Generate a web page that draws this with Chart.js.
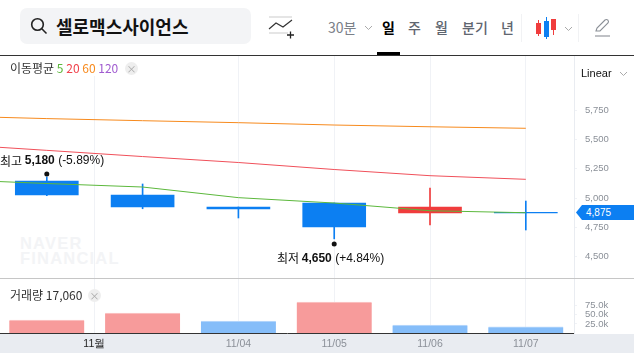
<!DOCTYPE html>
<html>
<head>
<meta charset="utf-8">
<script src="https://cdn.jsdelivr.net/npm/chart.js@4"></script>
<style>
	html, body { margin: 0; padding: 0; background: #fff; overflow: hidden; }
	body { width: 634px; height: 353px; position: relative; font-family: "Noto Sans CJK KR", "Noto Sans", sans-serif; }
	.abs { position: absolute; white-space: nowrap; }
	canvas { position: absolute; left: 0; }
	#searchBox { left: 20px; top: 8px; width: 231px; height: 36px; background: #f3f4f6; border-radius: 7px; }
	#stockName { left: 56px; top: 14px; font-size: 18px; line-height: 25px; font-weight: 700; color: #111; }
	.tab { top: 17px; font-size: 14px; line-height: 20px; font-weight: 500; color: #5f6670; }
	#headLine { left: 0; top: 55px; width: 634px; height: 1px; background: #333; }
	#tabLine { left: 377px; top: 52px; width: 23px; height: 3px; background: #000; }
	#legendBox { left: 0; top: 56px; width: 126px; height: 20px; background: #fff; }
	.label { font-size: 12px; line-height: 16px; color: #333; }
	.badge { width: 13px; height: 13px; border-radius: 50%; background: #eee; color: #aaa; font-size: 10px; line-height: 13px; text-align: center; }
	#axisBand { left: 0; top: 334px; width: 634px; height: 19px; background: #e9ecf1; }
	#watermark { left: 20px; top: 236px; font-family: "Liberation Sans", sans-serif; font-weight: 700; font-size: 16.5px; line-height: 15px; letter-spacing: 1.2px; color: #f3f4f6; }
	#priceTag { left: 576px; top: 205px; width: 58px; height: 15px; background: #0c7ff2; clip-path: polygon(6px 0, 100% 0, 100% 100%, 6px 100%, 0 50%); color: #fff; font-family: "Liberation Sans", sans-serif; font-size: 10px; line-height: 15px; text-indent: 10px; }
	#paneLine { left: 0; top: 278px; width: 634px; height: 1px; background: #c6c6c6; }
</style>
</head>
<body>
<div class="abs" id="axisBand"></div>
<div class="abs" id="watermark">NAVER<br>FINANCIAL</div>
<canvas id="price" width="634" height="222" style="top:56px"></canvas>
<canvas id="volume" width="634" height="74" style="top:279px"></canvas>

<div class="abs" id="searchBox"></div>
<svg class="abs" style="left:30px;top:17px" width="18" height="18" viewBox="0 0 18 18" fill="none" stroke="#222" stroke-width="1.6"><circle cx="7.5" cy="7.5" r="5.8"/><path d="M11.8 11.8 L16.5 16.5"/></svg>
<div class="abs" id="stockName">셀로맥스사이언스</div>
<svg class="abs" style="left:268px;top:16px" width="26" height="24" viewBox="0 0 26 24" fill="none"><path d="M1 1 H24 M1 17 H20" stroke="#ddd" stroke-width="1.3"/><path d="M1 13 L8 7 L15 11 L24 4" stroke="#333" stroke-width="1.2"/><path d="M19 19 H26 M22.5 15.5 V22.5" stroke="#222" stroke-width="1.3"/></svg>
<div class="abs tab" style="left:328px;color:#7b8088;font-weight:400">30분</div>
<svg class="abs" style="left:364px;top:25px" width="9" height="6" fill="none" stroke="#aaa"><path d="M1 1 L4.5 4.5 L8 1"/></svg>
<div class="abs tab" style="left:382px;color:#000;font-weight:700">일</div>
<div class="abs tab" style="left:408px">주</div>
<div class="abs tab" style="left:435px">월</div>
<div class="abs tab" style="left:462px">분기</div>
<div class="abs tab" style="left:501px">년</div>
<div class="abs" style="left:521px;top:14px;width:1px;height:28px;background:#f1f2f4"></div>
<svg class="abs" style="left:535px;top:17px" width="22" height="22"><path d="M3.5 3 V19 M18.5 2 V18" stroke-width="1" fill="none" stroke="#f03c3c"/><rect x="1" y="6" width="5" height="11" fill="#f03c3c"/><path d="M11.5 0 V22" stroke="#0c7ff2"/><rect x="9" y="4" width="5" height="16" fill="#0c7ff2"/><rect x="16" y="2" width="5" height="11" fill="#f03c3c"/></svg>
<svg class="abs" style="left:564px;top:26px" width="9" height="6" fill="none" stroke="#aaa"><path d="M1 1 L4.5 4.5 L8 1"/></svg>
<div class="abs" style="left:578px;top:14px;width:1px;height:28px;background:#f1f2f4"></div>
<svg class="abs" style="left:594px;top:18px" width="18" height="19" fill="none" stroke="#8a8f96" stroke-width="1.1"><path d="M2 13 L3 10 L11 2 Q12.5 1 14 2.2 Q15 3.6 14 5 L6 13 Z"/><path d="M1 18 H16"/></svg>
<div class="abs" id="tabLine"></div>
<div class="abs" id="headLine"></div>

<div class="abs" id="legendBox"></div>
<div class="abs label" style="left:10px;top:60px">이동평균 <span style="color:#5cb83c">5</span> <span style="color:#f0414b">20</span> <span style="color:#f78a1d">60</span> <span style="color:#a05bd0">120</span></div>
<div class="abs badge" style="left:125px;top:62px">×</div>
<div class="abs" style="left:581px;top:66px;font-family:'Liberation Sans',sans-serif;font-size:11px;line-height:14px;color:#111">Linear</div>
<svg class="abs" style="left:619px;top:71px" width="9" height="6" fill="none" stroke="#aaa"><path d="M1 1 L4.5 4.5 L8 1"/></svg>
<div class="abs" id="priceTag">4,875</div>
<div class="abs" id="paneLine"></div>
<div class="abs label" style="left:10px;top:287px">거래량 17,060</div>
<div class="abs badge" style="left:88px;top:289px">×</div>

<script>
const candleX = [0, 1, 2, 3, 4, 5];
const candleOpen = [5145, 5026, 4923, 4957, 4872, 4878];
const candleClose = [5026, 4923, 4906, 4752, 4923, 4872];
const candleHigh = [5180, 5120, 4923, 4957, 5086, 4974];
const candleLow = [5020, 4908, 4829, 4650, 4769, 4726];

const maX = [-1, 0, 1, 2, 3, 4, 5];
const ma5 = [5158, 5124, 5094, 5003, 4957, 4891, 4874];
const ma20 = [5461, 5408, 5355, 5304, 5244, 5191, 5160];
const ma60 = [5702, 5680, 5662, 5645, 5625, 5610, 5597];

const volumes = [35700, 54900, 33000, 85000, 22000, 17060];

const priceTicks = [4500, 4750, 5000, 5250, 5500, 5750];
const volumeTicks = [25000, 50000, 75000];
const xTickValues = [0.496, 2, 3, 4, 5];
const xTickLabels = ['11월', '11/04', '11/05', '11/06', '11/07'];

const UP = '#f03c3c';
const DOWN = '#0c7ff2';
const GRID = '#f0f2f6';
const TICK_COLOR = '#8b9098';
const AXIS_FONT = { family: "'Liberation Sans', sans-serif", size: 9.5 };
const AXIS_WIDTH = 60;

const isUp = i => candleClose[i] >= candleOpen[i];
// volume bars are coloured against the previous day's volume, not the candle
const isVolUp = i => i === 0 || volumes[i] >= volumes[i - 1];

const xScale = extra => Object.assign({
	type: 'linear',
	offset: false,
	min: -0.4885,
	max: 5.503,
	afterBuildTicks: scale => {
		scale.ticks = xTickValues.map(value => ({ value }));
	},
	grid: { offset: false, color: GRID, drawTicks: false },
	border: { display: false }
}, extra);

// keep the plot area exact: no room reserved for half a tick label
const fitY = s => {
	s.width = AXIS_WIDTH;
	s.paddingTop = 0;
	s.paddingBottom = 0;
};
const fitX = h => s => {
	s.height = h;
	s.paddingLeft = 0;
	s.paddingRight = 0;
};

const maLine = (values, color) => ({
	type: 'line',
	data: maX.map((x, i) => ({ x, y: values[i] })),
	borderColor: color,
	borderWidth: 1,
	pointRadius: 0,
	tension: 0,
	order: 0
});

// high / low callouts, drawn next to the candle they belong to
const callouts = {
	id: 'callouts',
	afterDatasetsDraw(chart) {
		const { ctx, scales: { x, y } } = chart;
		const hi = candleHigh.indexOf(Math.max(...candleHigh));
		const lo = candleLow.indexOf(Math.min(...candleLow));
		const put = (i, value, name, pct, dotOff, textOff, left) => {
			const px = x.getPixelForValue(candleX[i]);
			const py = y.getPixelForValue(value);
			ctx.save();
			ctx.fillStyle = '#111';
			ctx.beginPath();
			ctx.arc(px, py + dotOff, 2.5, 0, Math.PI * 2);
			ctx.fill();
			ctx.textBaseline = 'middle';
			let tx = left;
			const ty = py + textOff;
			const parts = [
				[name + ' ', "12px 'Noto Sans CJK KR'"],
				[value.toLocaleString('en-US') + ' ', "bold 12px 'Liberation Sans'"],
				[pct, "12px 'Liberation Sans'"]
			];
			parts.forEach(([text, font]) => {
				ctx.font = font;
				ctx.fillText(text, tx, ty);
				tx += ctx.measureText(text).width;
			});
			ctx.restore();
		};
		put(hi, candleHigh[hi], '최고', '(-5.89%)', -3, -16, 0);
		put(lo, candleLow[lo], '최저', '(+4.84%)', 5, 20, 277);
	}
};

const priceChart = new Chart(document.getElementById('price'), {
	type: 'bar',
	data: {
		datasets: [
			maLine(ma5, '#5cb83c'),
			maLine(ma20, '#f0505a'),
			maLine(ma60, '#f78a1d'),
			{
				data: candleX.map((x, i) => ({ x, y: [candleOpen[i], candleClose[i]] })),
				backgroundColor: candleX.map((x, i) => isUp(i) ? UP : DOWN),
				barThickness: 63,
				grouped: false,
				order: 1
			},
			{
				data: candleX.map((x, i) => ({ x, y: [candleLow[i], candleHigh[i]] })),
				backgroundColor: candleX.map((x, i) => isUp(i) ? UP : DOWN),
				barThickness: 1,
				grouped: false,
				order: 2
			}
		]
	},
	options: {
		responsive: false,
		animation: false,
		events: [],
		layout: { padding: 0 },
		plugins: { legend: { display: false }, tooltip: { enabled: false } },
		scales: {
			x: xScale({ ticks: { display: false }, afterFit: fitX(0) }),
			y: {
				position: 'right',
				min: 4315,
				max: 6216,
				afterBuildTicks: scale => {
					scale.ticks = priceTicks.map(value => ({ value }));
				},
				afterFit: fitY,
				grid: { drawOnChartArea: false, color: GRID, tickLength: 3 },
				border: { color: '#e9ecf1' },
				ticks: {
					color: TICK_COLOR,
					font: AXIS_FONT,
					padding: 8,
					callback: v => v.toLocaleString('en-US')
				}
			}
		}
	},
	plugins: [callouts]
});

const volumeChart = new Chart(document.getElementById('volume'), {
	type: 'bar',
	data: {
		datasets: [{
			data: candleX.map((x, i) => ({ x, y: volumes[i] })),
			backgroundColor: candleX.map((x, i) => isVolUp(i) ? '#f79b9b' : '#85bdf9'),
			borderColor: candleX.map((x, i) => isVolUp(i) ? '#fbcaca' : '#c0dcfb'),
			borderWidth: { top: 1, left: 0, right: 0, bottom: 0 },
			borderSkipped: false,
			barThickness: 75
		}]
	},
	options: {
		responsive: false,
		animation: false,
		events: [],
		layout: { padding: 0 },
		plugins: { legend: { display: false }, tooltip: { enabled: false } },
		scales: {
			x: xScale({
				afterFit: fitX(20),
				border: { display: true, color: '#333' },
				ticks: {
					autoSkip: false,
					maxRotation: 0,
					padding: 5,
					font: { family: "'Liberation Sans', sans-serif", size: 10.5 },
					color: ctx => ctx.index === 0 ? '#222' : TICK_COLOR,
					callback: (v, i) => xTickLabels[i]
				}
			}),
			y: {
				position: 'right',
				min: 0,
				max: 148352,
				afterBuildTicks: scale => {
					scale.ticks = volumeTicks.map(value => ({ value }));
				},
				afterFit: fitY,
				grid: { drawOnChartArea: false, color: GRID, tickLength: 3 },
				border: { color: '#e9ecf1' },
				ticks: {
					color: TICK_COLOR,
					font: AXIS_FONT,
					padding: 8,
					callback: v => (v / 1000).toFixed(1) + 'k'
				}
			}
		}
	}
});
</script>
</body>
</html>
